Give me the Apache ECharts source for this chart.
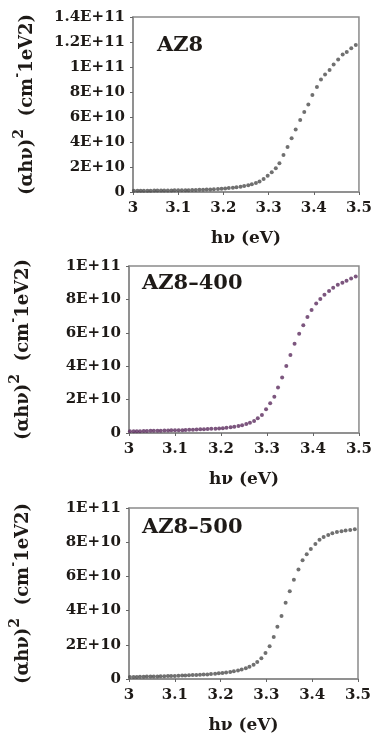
<!DOCTYPE html>
<html>
<head>
<meta charset="utf-8">
<script src="https://cdn.jsdelivr.net/npm/echarts@6/dist/echarts.min.js"></script>
<style>
    html, body { margin: 0; padding: 0; background: #fff; }
    #chart { width: 375px; height: 742px; }
</style>
</head>
<body>
<div id="chart"></div>
<script>
    // photon energy (eV), one point per nm of wavelength
    var hv = [3.002, 3.010, 3.017, 3.024, 3.032, 3.039, 3.047, 3.054, 3.062, 3.069,
        3.077, 3.085, 3.092, 3.100, 3.108, 3.116, 3.123, 3.131, 3.139, 3.147,
        3.155, 3.163, 3.171, 3.179, 3.188, 3.196, 3.204, 3.212, 3.221, 3.229,
        3.238, 3.246, 3.255, 3.263, 3.272, 3.280, 3.289, 3.298, 3.307, 3.316,
        3.324, 3.333, 3.342, 3.351, 3.360, 3.370, 3.379, 3.388, 3.397, 3.407,
        3.416, 3.425, 3.435, 3.444, 3.454, 3.464, 3.473, 3.483, 3.493];

    // (αhν)² in units of 1E+10
    var az8 = [0.10, 0.10, 0.10, 0.11, 0.11, 0.11, 0.12, 0.12, 0.12, 0.13,
        0.13, 0.13, 0.14, 0.14, 0.14, 0.15, 0.15, 0.16, 0.17, 0.18,
        0.19, 0.20, 0.21, 0.23, 0.25, 0.27, 0.29, 0.32, 0.35, 0.39,
        0.43, 0.48, 0.55, 0.62, 0.72, 0.85, 1.05, 1.30, 1.58, 1.90,
        2.30, 2.96, 3.60, 4.30, 5.00, 5.76, 6.40, 7.00, 7.76, 8.40,
        9.00, 9.40, 9.76, 10.20, 10.60, 11.00, 11.20, 11.50, 11.76];

    var az8_400 = [0.10, 0.10, 0.11, 0.11, 0.12, 0.12, 0.13, 0.13, 0.14, 0.14,
        0.15, 0.15, 0.16, 0.16, 0.17, 0.17, 0.18, 0.19, 0.20, 0.21,
        0.22, 0.23, 0.24, 0.25, 0.26, 0.27, 0.29, 0.31, 0.34, 0.38,
        0.42, 0.47, 0.54, 0.62, 0.72, 0.88, 1.08, 1.42, 1.78, 2.17,
        2.72, 3.33, 4.01, 4.67, 5.35, 5.95, 6.45, 6.95, 7.37, 7.75,
        8.03, 8.28, 8.50, 8.70, 8.87, 9.00, 9.12, 9.25, 9.37];

    var az8_500 = [0.11, 0.12, 0.12, 0.13, 0.13, 0.14, 0.14, 0.15, 0.15, 0.16,
        0.16, 0.17, 0.17, 0.18, 0.19, 0.20, 0.21, 0.22, 0.23, 0.24,
        0.25, 0.26, 0.27, 0.29, 0.31, 0.33, 0.35, 0.38, 0.41, 0.45,
        0.50, 0.56, 0.63, 0.72, 0.84, 1.00, 1.22, 1.52, 1.92, 2.45,
        3.06, 3.68, 4.46, 5.13, 5.80, 6.40, 6.95, 7.30, 7.60, 7.90,
        8.15, 8.30, 8.42, 8.52, 8.59, 8.64, 8.68, 8.72, 8.76];

    var sampleNames = ['AZ8', 'AZ8\u2013400', 'AZ8\u2013500'];
    var yMax = [14, 10, 10];

    var font = 'DejaVu Serif';
    var textColor = '#1e1a17';
    var frameColor = '#8a8a8a';

    // pixel boxes of the three panels
    var grids = [
        {left: 133, right: 9, top: 17, height: 175},
        {left: 129, right: 13, top: 266, height: 167},
        {left: 126, right: 17, top: 508, height: 171}
    ];
    var nameTop = [35, 273, 517];
    var nameLeft = [157, 142, 142];
    var dotColors = ['#4c4c4c', '#5b2c5e', '#4c4c4c'];
    var seriesData = [az8, az8_400, az8_500];

    function pairs(ys) {
        var out = [];
        for (var i = 0; i < hv.length; i++) {
            out.push([hv[i], ys[i]]);
        }
        return out;
    }

    var option = {
        animation: false,
        title: [],
        grid: [],
        xAxis: [],
        yAxis: [],
        series: []
    };

    for (var k = 0; k < 3; k++) {
        option.grid.push({
            left: grids[k].left,
            right: grids[k].right,
            top: grids[k].top,
            height: grids[k].height,
            show: true,
            borderColor: frameColor,
            borderWidth: 1.5
        });
        option.title.push({
            text: sampleNames[k],
            left: nameLeft[k],
            top: nameTop[k],
            padding: 0,
            textStyle: {fontFamily: font, fontWeight: 'bold', fontSize: 21, color: textColor}
        });
        option.xAxis.push({
            type: 'value',
            gridIndex: k,
            min: 3,
            max: 3.5,
            interval: 0.1,
            name: 'h\u03bd (eV)',
            nameLocation: 'middle',
            nameGap: 38,
            nameTextStyle: {fontFamily: font, fontWeight: 'bold', fontSize: 17, color: textColor},
            axisLine: {show: true, lineStyle: {color: frameColor, width: 1.5}},
            axisTick: {show: true, length: 3, lineStyle: {color: '#666'}},
            splitLine: {show: false},
            axisLabel: {fontFamily: font, fontWeight: 'bold', fontSize: 15, color: textColor, margin: 9}
        });
        option.yAxis.push({
            type: 'value',
            gridIndex: k,
            min: 0,
            max: yMax[k],
            interval: 2,
            name: '{a|(\u03b1h\u03bd)}{s|2}{a|  (cm}{m|-}{a|1eV2)}',
            nameLocation: 'middle',
            nameGap: 97,
            nameTextStyle: {
                fontFamily: font, fontWeight: 'bold', fontSize: 18, color: textColor,
                rich: {
                    a: {fontFamily: font, fontWeight: 'bold', fontSize: 18, color: textColor, lineHeight: 24, verticalAlign: 'bottom'},
                    s: {fontFamily: font, fontWeight: 'bold', fontSize: 14, color: textColor, lineHeight: 14, verticalAlign: 'top'},
                    m: {fontFamily: font, fontWeight: 'bold', fontSize: 12, color: textColor, lineHeight: 12, verticalAlign: 'top'}
                }
            },
            axisLine: {show: true, lineStyle: {color: frameColor, width: 1.5}},
            axisTick: {show: true, length: 3, lineStyle: {color: '#666'}},
            splitLine: {show: false},
            axisLabel: {
                fontFamily: font, fontWeight: 'bold', fontSize: 15, color: textColor, margin: 8,
                formatter: function (v) {
                    return v === 0 ? '0' : (v * 1e10).toExponential().toUpperCase();
                }
            }
        });
        option.series.push({
            type: 'scatter',
            xAxisIndex: k,
            yAxisIndex: k,
            symbol: 'circle',
            symbolSize: 4,
            silent: true,
            itemStyle: {color: dotColors[k]},
            data: pairs(seriesData[k])
        });
    }

    var chart = echarts.init(document.getElementById('chart'));
    chart.setOption(option);
</script>
</body>
</html>
